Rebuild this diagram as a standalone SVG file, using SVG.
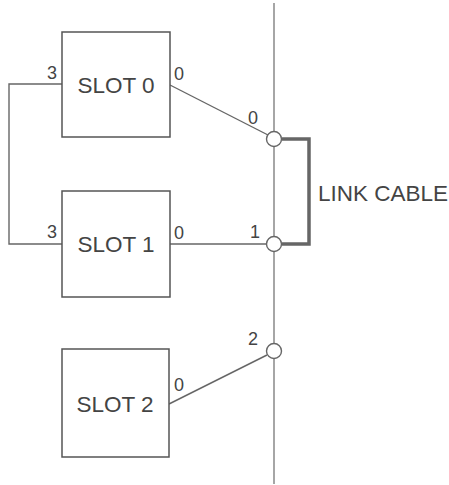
<svg xmlns="http://www.w3.org/2000/svg" width="449" height="485" viewBox="0 0 449 485">
<style>
.box{fill:#fff;stroke:#555;stroke-width:1.5}
.ln{fill:none;stroke:#666;stroke-width:1.4}
.bus{fill:none;stroke:#888;stroke-width:1.5}
.tap{fill:#fff;stroke:#666;stroke-width:1.4}
.cable{fill:none;stroke:#666;stroke-width:3.5}
.t{font-family:"Liberation Sans",Arial,sans-serif;fill:#444}
.big{font-size:22.5px}
.sm{font-size:18px}
</style>
<rect width="449" height="485" fill="#fff"/>
<g id="connectors">
<line class="bus" x1="274" y1="3" x2="274" y2="484"/>
<polyline class="ln" points="62,84 9,84 9,244 62,244"/>
<line class="ln" x1="170" y1="85" x2="268" y2="135"/>
<line class="ln" x1="170" y1="244" x2="266" y2="244"/>
<line class="ln" x1="169" y1="404" x2="267" y2="355"/>
<polyline class="cable" points="282,139 309,139 309,244 282,244"/>
</g>
<g id="slot0">
<rect class="box" x="62" y="32" width="108" height="105"/>
<text class="t big" x="116" y="93" text-anchor="middle">SLOT 0</text>
<text class="t sm" x="47" y="79">3</text>
<text class="t sm" x="174" y="80">0</text>
</g>
<g id="slot1">
<rect class="box" x="62" y="191" width="108" height="106"/>
<text class="t big" x="116" y="252" text-anchor="middle">SLOT 1</text>
<text class="t sm" x="47" y="238">3</text>
<text class="t sm" x="174" y="239">0</text>
</g>
<g id="slot2">
<rect class="box" x="62" y="349" width="107" height="108"/>
<text class="t big" x="115" y="412" text-anchor="middle">SLOT 2</text>
<text class="t sm" x="174" y="391">0</text>
</g>
<g id="tap0">
<circle class="tap" cx="274" cy="139" r="7.5"/>
<text class="t sm" x="248" y="124">0</text>
</g>
<g id="tap1">
<circle class="tap" cx="274" cy="244" r="7.5"/>
<text class="t sm" x="250" y="238">1</text>
</g>
<g id="tap2">
<circle class="tap" cx="274" cy="351" r="7.5"/>
<text class="t sm" x="248" y="345">2</text>
</g>
<g id="linkcable">
<text class="t big" x="318" y="201">LINK CABLE</text>
</g>
</svg>
